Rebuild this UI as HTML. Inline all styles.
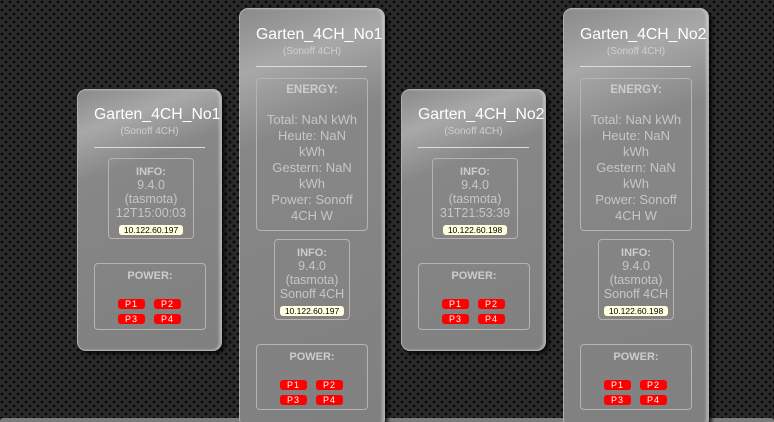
<!DOCTYPE html>
<html style="width:774px;height:422px;overflow:hidden"><head><meta charset="utf-8"><style>
*{margin:0;padding:0;box-sizing:border-box}
body{width:774px;height:422px;overflow:hidden;position:relative;font-family:"Liberation Sans",sans-serif;
background-color:#2a2a2a;
background-image:radial-gradient(circle,#070707 1.2px,transparent 1.6px),radial-gradient(circle,#070707 1.2px,transparent 1.6px);
background-size:8px 8px,8px 8px;background-position:2px 2px,6px 6px;}
.card{position:absolute;background:linear-gradient(160deg,#8a8a8a 0%,#a8a8a8 14%,#878787 30%,#808080 100%);border:1px solid #b0b0b0;border-radius:9px;overflow:hidden;box-shadow:3px 3px 3px rgba(0,0,0,.7), inset -2px 0 2px rgba(255,255,255,.35);}
.title{position:absolute;left:16px;white-space:nowrap;color:#fff;font-size:15.8px}
.sub{position:absolute;width:100%;text-align:center;color:#cfcfcf;font-size:10px}
.line{position:absolute;left:16px;width:111px;height:1px;background:#ddd}
.box{position:absolute;border:1px solid #b4b4b4;border-radius:4px;text-align:center;color:#c6c6c6}
.lbl{font-weight:bold;font-size:11px;color:#cccccc}
.info{font-size:12.5px;line-height:14px}
.ip{display:inline-block;background:#ffffe0;color:#000;font-size:8.5px;line-height:10px;width:64px;border-radius:3px;margin-top:1px}
.btn{position:absolute;width:27px;height:10px;background:#f00;border-radius:3px;color:#fff;font-size:9px;line-height:10px;text-align:center;letter-spacing:1px}
.bar{position:absolute;left:0;top:418px;width:774px;height:4px;background:#7c7c7c;border-radius:3px 3px 0 0}
</style></head><body>
<div class="bar"></div>

<div class="card" style="left:77px;top:89px;width:145px;height:262px">
 <div class="title" style="top:16px">Garten_4CH_No1</div>
 <div class="sub" style="top:36px">(Sonoff 4CH)</div>
 <div class="line" style="top:57px"></div>
 <div class="box" style="left:30px;top:68px;width:86px;height:81px;padding-top:7px">
  <div class="lbl">INFO:</div>
  <div class="info">9.4.0<br>(tasmota)<br>12T15:00:03</div>
  <div class="ip">10.122.60.197</div>
 </div>
 <div class="box" style="left:16px;top:173px;width:112px;height:67px;padding-top:6px"><div class="lbl">POWER:</div></div>
 <div class="btn" style="left:40px;top:209px">P1</div><div class="btn" style="left:76px;top:209px">P2</div>
 <div class="btn" style="left:40px;top:224px">P3</div><div class="btn" style="left:76px;top:224px">P4</div>
</div>

<div class="card" style="left:239px;top:8px;width:146px;height:420px">
 <div class="title" style="top:17px">Garten_4CH_No1</div>
 <div class="sub" style="top:37px">(Sonoff 4CH)</div>
 <div class="line" style="top:57px"></div>
 <div class="box" style="left:16px;top:69px;width:112px;height:153px;padding-top:5px">
  <div class="lbl" style="font-size:11.5px">ENERGY:</div>
  <div style="font-size:13px;line-height:16px;margin-top:16px">Total: NaN kWh<br>Heute: NaN<br>kWh<br>Gestern: NaN<br>kWh<br>Power: Sonoff<br>4CH W</div>
 </div>
 <div class="box" style="left:34px;top:230px;width:76px;height:81px;padding-top:7px">
  <div class="lbl">INFO:</div>
  <div class="info">9.4.0<br>(tasmota)<br>Sonoff 4CH</div>
  <div class="ip">10.122.60.197</div>
 </div>
 <div class="box" style="left:16px;top:335px;width:112px;height:66px;padding-top:6px"><div class="lbl">POWER:</div></div>
 <div class="btn" style="left:40px;top:371px">P1</div><div class="btn" style="left:76px;top:371px">P2</div>
 <div class="btn" style="left:40px;top:386px">P3</div><div class="btn" style="left:76px;top:386px">P4</div>
</div>

<div class="card" style="left:401px;top:89px;width:145px;height:262px">
 <div class="title" style="top:16px">Garten_4CH_No2</div>
 <div class="sub" style="top:36px">(Sonoff 4CH)</div>
 <div class="line" style="top:57px"></div>
 <div class="box" style="left:30px;top:68px;width:86px;height:81px;padding-top:7px">
  <div class="lbl">INFO:</div>
  <div class="info">9.4.0<br>(tasmota)<br>31T21:53:39</div>
  <div class="ip">10.122.60.198</div>
 </div>
 <div class="box" style="left:16px;top:173px;width:112px;height:67px;padding-top:6px"><div class="lbl">POWER:</div></div>
 <div class="btn" style="left:40px;top:209px">P1</div><div class="btn" style="left:76px;top:209px">P2</div>
 <div class="btn" style="left:40px;top:224px">P3</div><div class="btn" style="left:76px;top:224px">P4</div>
</div>

<div class="card" style="left:563px;top:8px;width:146px;height:420px">
 <div class="title" style="top:17px">Garten_4CH_No2</div>
 <div class="sub" style="top:37px">(Sonoff 4CH)</div>
 <div class="line" style="top:57px"></div>
 <div class="box" style="left:16px;top:69px;width:112px;height:153px;padding-top:5px">
  <div class="lbl" style="font-size:11.5px">ENERGY:</div>
  <div style="font-size:13px;line-height:16px;margin-top:16px">Total: NaN kWh<br>Heute: NaN<br>kWh<br>Gestern: NaN<br>kWh<br>Power: Sonoff<br>4CH W</div>
 </div>
 <div class="box" style="left:34px;top:230px;width:76px;height:81px;padding-top:7px">
  <div class="lbl">INFO:</div>
  <div class="info">9.4.0<br>(tasmota)<br>Sonoff 4CH</div>
  <div class="ip">10.122.60.198</div>
 </div>
 <div class="box" style="left:16px;top:335px;width:112px;height:66px;padding-top:6px"><div class="lbl">POWER:</div></div>
 <div class="btn" style="left:40px;top:371px">P1</div><div class="btn" style="left:76px;top:371px">P2</div>
 <div class="btn" style="left:40px;top:386px">P3</div><div class="btn" style="left:76px;top:386px">P4</div>
</div>
</body></html>
